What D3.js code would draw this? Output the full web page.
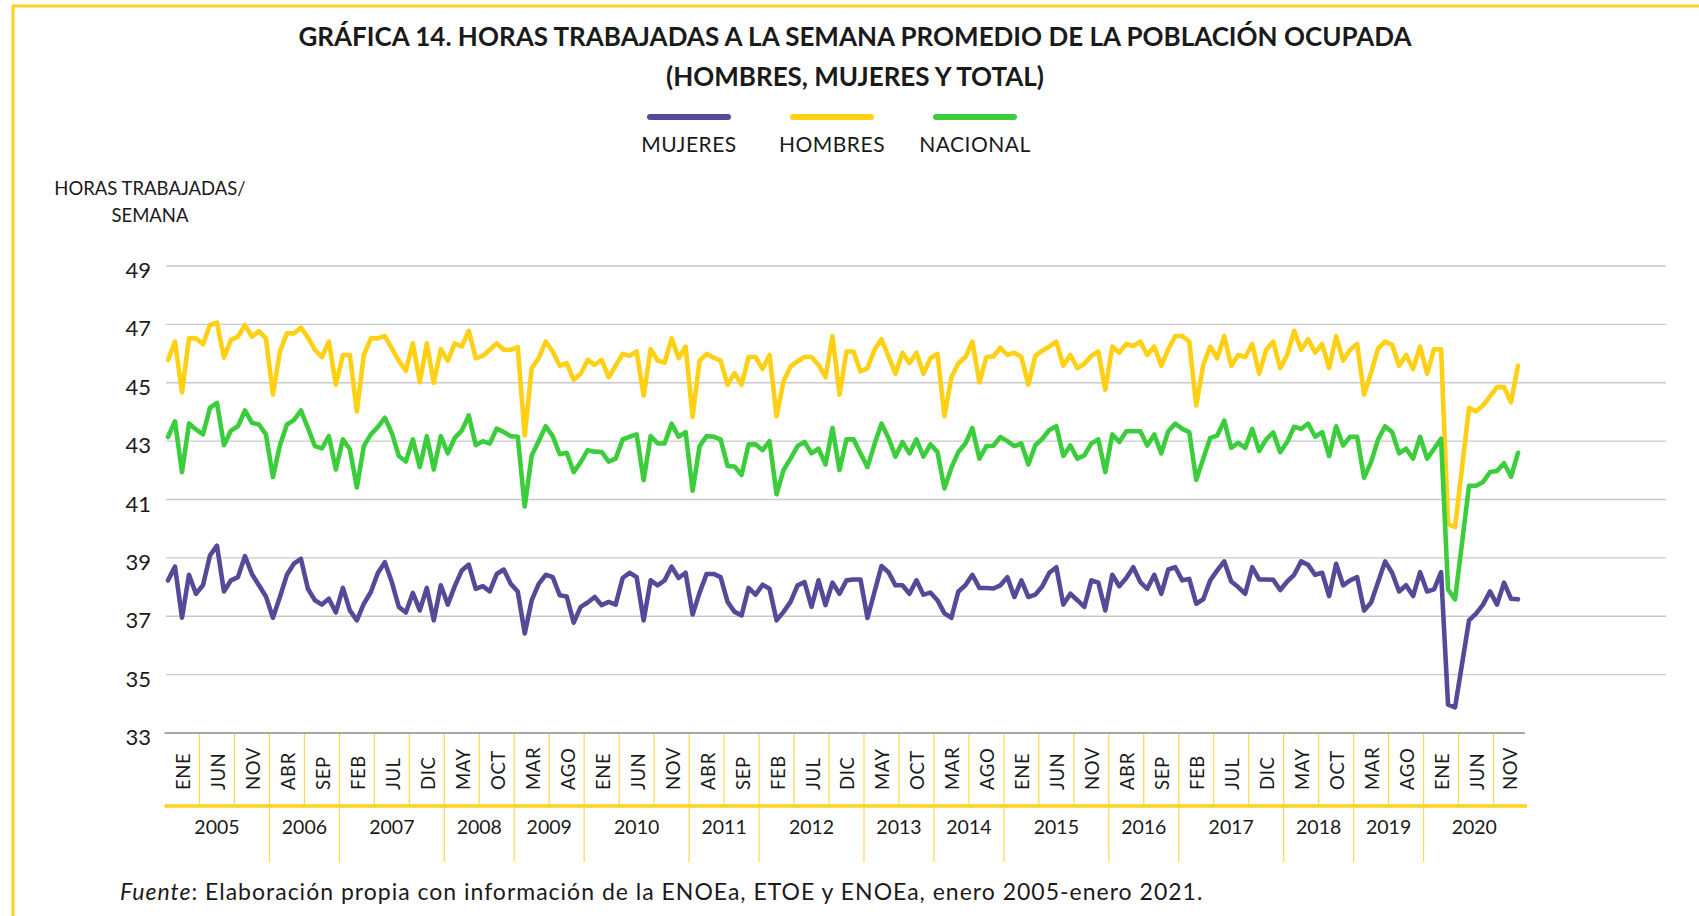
<!DOCTYPE html>
<html>
<head>
<meta charset="utf-8">
<script src="https://cdn.jsdelivr.net/npm/d3@7"></script>
<style>
  body { margin: 0; background: #fff; }
  svg { display: block; font-family: Lato, "Open Sans", sans-serif; }
</style>
</head>
<body>
<div id="chart"></div>
<script>
// Monthly data, ENE 2005 onward (hours per week)
const mujeres = [
  38.23, 38.7, 36.95, 38.42, 37.77, 38.06, 39.08, 39.42, 37.85, 38.23,
  38.34, 39.06, 38.45, 38.06, 37.68, 36.95, 37.66, 38.42, 38.8, 38.97,
  37.94, 37.55, 37.4, 37.6, 37.13, 37.97, 37.2, 36.86, 37.43, 37.83,
  38.48, 38.85, 38.17, 37.32, 37.13, 37.8, 37.2, 37.97, 36.86, 38.06,
  37.4, 38.03, 38.57, 38.77, 37.94, 38.03, 37.85, 38.45, 38.6, 38.11,
  37.85, 36.41, 37.55, 38.11, 38.42, 38.34, 37.72, 37.68, 36.78, 37.32,
  37.47, 37.66, 37.38, 37.49, 37.4, 38.31, 38.49, 38.34, 36.86, 38.23,
  38.06, 38.23, 38.7, 38.31, 38.49, 37.06, 37.81, 38.45, 38.45, 38.34,
  37.49, 37.15, 37.03, 37.97, 37.74, 38.08, 37.94, 36.86, 37.15, 37.49,
  38.06, 38.17, 37.32, 38.23, 37.38, 38.15, 37.77, 38.23, 38.26, 38.26,
  36.94, 37.83, 38.72, 38.51, 38.06, 38.06, 37.77, 38.23, 37.74, 37.81,
  37.55, 37.1, 36.95, 37.85, 38.06, 38.42, 37.97, 37.97, 37.95, 38.06,
  38.34, 37.66, 38.23, 37.66, 37.74, 38.03, 38.49, 38.68, 37.4, 37.77,
  37.55, 37.32, 38.23, 38.15, 37.2, 38.42, 38.03, 38.31, 38.68, 38.17,
  37.94, 38.42, 37.77, 38.6, 38.68, 38.23, 38.28, 37.43, 37.58, 38.23,
  38.57, 38.88, 38.19, 38.0, 37.77, 38.68, 38.26, 38.26, 38.25, 37.9,
  38.19, 38.42, 38.88, 38.76, 38.42, 38.49, 37.69, 38.8, 38.06, 38.23,
  38.34, 37.2, 37.47, 38.17, 38.88, 38.49, 37.85, 38.06, 37.69, 38.51,
  37.85, 37.92, 38.51, 33.97, 33.88, 35.37, 36.86, 37.09, 37.4, 37.85,
  37.4, 38.15, 37.6, 37.58
];

const hombres = [
  45.78, 46.41, 44.67, 46.52, 46.52, 46.32, 46.98, 47.06, 45.86, 46.47,
  46.58, 46.98, 46.58, 46.77, 46.52, 44.59, 46.07, 46.69, 46.69, 46.89,
  46.55, 46.13, 45.88, 46.41, 44.93, 45.95, 45.95, 44.02, 45.95, 46.52,
  46.52, 46.6, 46.18, 45.75, 45.41, 46.35, 45.02, 46.35, 45.0, 46.15,
  45.75, 46.35, 46.24, 46.78, 45.84, 45.92, 46.13, 46.35, 46.13, 46.13,
  46.22, 43.19, 45.5, 45.84, 46.41, 46.07, 45.58, 45.67, 45.1, 45.31,
  45.78, 45.61, 45.78, 45.19, 45.58, 45.99, 45.92, 46.07, 44.56, 46.15,
  45.76, 45.69, 46.52, 45.84, 46.24, 43.83, 45.76, 45.99, 45.86, 45.76,
  44.93, 45.33, 44.93, 45.88, 45.88, 45.47, 45.95, 43.85, 45.05, 45.56,
  45.73, 45.88, 45.88, 45.61, 45.19, 46.6, 44.59, 46.07, 46.07, 45.39,
  45.5, 46.13, 46.49, 45.9, 45.31, 46.03, 45.67, 46.03, 45.31, 45.84,
  45.99, 43.85, 45.19, 45.67, 45.88, 46.41, 45.01, 45.88, 45.9, 46.2,
  45.95, 46.03, 45.88, 44.93, 45.92, 46.1, 46.24, 46.41, 45.58, 45.95,
  45.5, 45.65, 45.92, 46.07, 44.76, 46.24, 46.03, 46.33, 46.26, 46.41,
  45.95, 46.24, 45.58, 46.15, 46.6, 46.6, 46.41, 44.22, 45.61, 46.24,
  45.84, 46.6, 45.58, 45.95, 45.88, 46.33, 45.31, 46.13, 46.41, 45.5,
  45.95, 46.78, 46.13, 46.49, 46.03, 46.33, 45.5, 46.6, 45.76, 46.13,
  46.33, 44.59, 45.35, 46.18, 46.41, 46.3, 45.58, 45.95, 45.47, 46.24,
  45.31, 46.15, 46.15, 40.16, 40.05, 42.09, 44.14, 44.02, 44.22, 44.53,
  44.85, 44.85, 44.33, 45.58
];

const nacional = [
  43.14, 43.68, 41.94, 43.6, 43.4, 43.23, 44.14, 44.31, 42.86, 43.36,
  43.51, 44.05, 43.63, 43.57, 43.23, 41.77, 42.86, 43.57, 43.72, 44.05,
  43.45, 42.83, 42.75, 43.17, 42.03, 43.06, 42.72, 41.41, 42.83, 43.23,
  43.48, 43.8, 43.28, 42.49, 42.3, 43.06, 42.11, 43.17, 42.03, 43.17,
  42.58, 43.11, 43.36, 43.88, 42.86, 43.0, 42.92, 43.43, 43.31, 43.17,
  43.15, 40.76, 42.51, 43.0, 43.51, 43.17, 42.55, 42.6, 41.94, 42.28,
  42.69, 42.64, 42.63, 42.3, 42.4, 43.06, 43.15, 43.23, 41.66, 43.17,
  42.92, 42.92, 43.6, 43.15, 43.31, 41.3, 42.83, 43.17, 43.15, 43.06,
  42.15, 42.13, 41.84, 42.89, 42.89, 42.69, 43.0, 41.18, 42.01, 42.4,
  42.83, 42.97, 42.58, 42.74, 42.2, 43.45, 42.01, 43.06, 43.06, 42.58,
  42.11, 42.89, 43.6, 43.11, 42.47, 42.97, 42.58, 43.06, 42.47, 42.89,
  42.63, 41.38, 42.09, 42.63, 42.92, 43.45, 42.4, 42.83, 42.84, 43.14,
  43.0, 42.83, 42.92, 42.2, 42.86, 43.08, 43.38, 43.51, 42.49, 42.85,
  42.4, 42.51, 42.92, 43.06, 41.94, 43.23, 42.97, 43.34, 43.34, 43.34,
  42.85, 43.23, 42.58, 43.34, 43.6, 43.42, 43.31, 41.67, 42.4, 43.11,
  43.19, 43.7, 42.77, 42.94, 42.77, 43.42, 42.66, 43.06, 43.3, 42.62,
  42.97, 43.49, 43.42, 43.6, 43.15, 43.31, 42.49, 43.51, 42.85, 43.15,
  43.15, 41.75, 42.28, 43.06, 43.51, 43.31, 42.58, 42.74, 42.4, 43.15,
  42.4, 42.74, 43.08, 37.92, 37.58, 39.52, 41.47, 41.47, 41.6, 41.94,
  41.98, 42.24, 41.78, 42.6
];

// one label every 5 months
const tickLabels = [
  'ENE', 'JUN', 'NOV', 'ABR', 'SEP', 'FEB', 'JUL', 'DIC', 'MAY', 'OCT',
  'MAR', 'AGO', 'ENE', 'JUN', 'NOV', 'ABR', 'SEP', 'FEB', 'JUL', 'DIC',
  'MAY', 'OCT', 'MAR', 'AGO', 'ENE', 'JUN', 'NOV', 'ABR', 'SEP', 'FEB',
  'JUL', 'DIC', 'MAY', 'OCT', 'MAR', 'AGO', 'ENE', 'JUN', 'NOV'
];
const years = [2005, 2006, 2007, 2008, 2009, 2010, 2011, 2012, 2013, 2014, 2015, 2016, 2017, 2018, 2019, 2020];
const yearSpan = [3, 2, 3, 2, 2, 3, 2, 3, 2, 2, 3, 2, 3, 2, 2, 3]; // label cells per year
const yTicks = [33, 35, 37, 39, 41, 43, 45, 47, 49];

const seriesNames = ['MUJERES', 'HOMBRES', 'NACIONAL'];
const seriesColours = ['#564a98', '#ffd014', '#3ccd3c'];
const seriesData = [mujeres, hombres, nacional];

const width = 1699, height = 916;
const step = 5; // months per label cell
const yellow = '#ffd21f';

const svg = d3.select('#chart').append('svg')
  .attr('width', width)
  .attr('height', height);

svg.append('rect').attr('width', width).attr('height', height).attr('fill', '#fff');

// frame
svg.append('line').attr('x1', 12).attr('x2', width).attr('y1', 6).attr('y2', 6)
  .attr('stroke', yellow).attr('stroke-width', 3);
svg.append('line').attr('x1', 13).attr('x2', 13).attr('y1', 5).attr('y2', height)
  .attr('stroke', yellow).attr('stroke-width', 3);

// title
const title = svg.append('g').attr('text-anchor', 'middle')
  .attr('font-weight', 700).attr('font-size', 26).attr('fill', '#1a1a1a');
title.append('text').attr('x', 855).attr('y', 46)
  .text('GRÁFICA 14. HORAS TRABAJADAS A LA SEMANA PROMEDIO DE LA POBLACIÓN OCUPADA');
title.append('text').attr('x', 855).attr('y', 86)
  .text('(HOMBRES, MUJERES Y TOTAL)');

// legend
const legend = svg.append('g');
seriesNames.forEach((name, i) => {
  const cx = 689 + i * 143;
  legend.append('line')
    .attr('x1', cx - 39).attr('x2', cx + 39)
    .attr('y1', 117).attr('y2', 117)
    .attr('stroke', seriesColours[i]).attr('stroke-width', 6)
    .attr('stroke-linecap', 'round');
  legend.append('text')
    .attr('x', cx).attr('y', 152)
    .attr('text-anchor', 'middle').attr('font-size', 21).attr('fill', '#1a1a1a')
    .attr('letter-spacing', 0.5)
    .text(name);
});

// y axis title
svg.append('text').attr('x', 150).attr('y', 195)
  .attr('text-anchor', 'middle').attr('font-size', 18.5).attr('fill', '#1a1a1a')
  .text('HORAS TRABAJADAS/');
svg.append('text').attr('x', 150).attr('y', 222)
  .attr('text-anchor', 'middle').attr('font-size', 18.5).attr('fill', '#1a1a1a')
  .text('SEMANA');

// scales
const n = mujeres.length;
const x = d3.scaleLinear().domain([-0.5, n]).range([164.5, 1525]);
const y = d3.scaleLinear().domain([33, 49]).range([733, 266]);

// grid
const grid = svg.append('g');
grid.selectAll('line')
  .data(yTicks.filter(d => d > 33))
  .enter().append('line')
  .attr('x1', 166).attr('x2', 1666)
  .attr('y1', d => y(d)).attr('y2', d => y(d))
  .attr('stroke', '#c9c9c9').attr('stroke-width', 1.4);

grid.selectAll('text')
  .data(yTicks)
  .enter().append('text')
  .attr('x', 151).attr('y', d => y(d) + 12)
  .attr('text-anchor', 'end').attr('font-size', 22).attr('fill', '#1a1a1a')
  .text(d => d);

// category axis
const axisG = svg.append('g');
const nCells = tickLabels.length;
const cellLeft = k => x(k * step - 0.5);
const cellRight = k => (k === nCells - 1 ? x(n) : x((k + 1) * step - 0.5));

axisG.selectAll('line.sep')
  .data(d3.range(1, nCells))
  .enter().append('line')
  .attr('class', 'sep')
  .attr('x1', k => cellLeft(k)).attr('x2', k => cellLeft(k))
  .attr('y1', 734).attr('y2', 805)
  .attr('stroke', '#ffd84a').attr('stroke-width', 1.2);

axisG.selectAll('text.month')
  .data(tickLabels)
  .enter().append('text')
  .attr('class', 'month')
  .attr('transform', (d, k) => `translate(${(cellLeft(k) + cellRight(k)) / 2 + 8},790) rotate(-90)`)
  .attr('font-size', 18.5).attr('fill', '#1a1a1a')
  .attr('letter-spacing', 0.6)
  .text(d => d);

axisG.append('line')
  .attr('x1', x(-0.5)).attr('x2', x(n))
  .attr('y1', y(33)).attr('y2', y(33))
  .attr('stroke', '#a6a6a6').attr('stroke-width', 2);

axisG.append('line')
  .attr('x1', x(-0.5)).attr('x2', x(n) + 2)
  .attr('y1', 806).attr('y2', 806)
  .attr('stroke', yellow).attr('stroke-width', 3.5);

// year groups
const yearStart = d3.cumsum([0].concat(yearSpan)).slice(0, years.length);
axisG.selectAll('line.yearsep')
  .data(yearStart.slice(1))
  .enter().append('line')
  .attr('class', 'yearsep')
  .attr('x1', k => cellLeft(k)).attr('x2', k => cellLeft(k))
  .attr('y1', 807).attr('y2', 862)
  .attr('stroke', '#ffd84a').attr('stroke-width', 1.2);

axisG.selectAll('text.year')
  .data(years)
  .enter().append('text')
  .attr('class', 'year')
  .attr('x', (d, i) => (cellLeft(yearStart[i]) + cellRight(yearStart[i] + yearSpan[i] - 1)) / 2)
  .attr('y', 834)
  .attr('text-anchor', 'middle').attr('font-size', 19.5).attr('fill', '#1a1a1a')
  .text(d => d);

// lines
const line = d3.line()
  .x((d, i) => x(i))
  .y(d => y(d));

svg.append('g').selectAll('path')
  .data(seriesData)
  .enter().append('path')
  .attr('d', d => line(d))
  .attr('fill', 'none')
  .attr('stroke', (d, i) => seriesColours[i])
  .attr('stroke-width', 4.6)
  .attr('stroke-linejoin', 'round')
  .attr('stroke-linecap', 'round');

// source note
const note = svg.append('text').attr('x', 120).attr('y', 900)
  .attr('font-size', 23).attr('letter-spacing', 1).attr('fill', '#1a1a1a');
note.append('tspan').attr('font-style', 'italic').text('Fuente');
note.append('tspan').text(': Elaboración propia con información de la ENOEa, ETOE y ENOEa, enero 2005-enero 2021.');
</script>
</body>
</html>
